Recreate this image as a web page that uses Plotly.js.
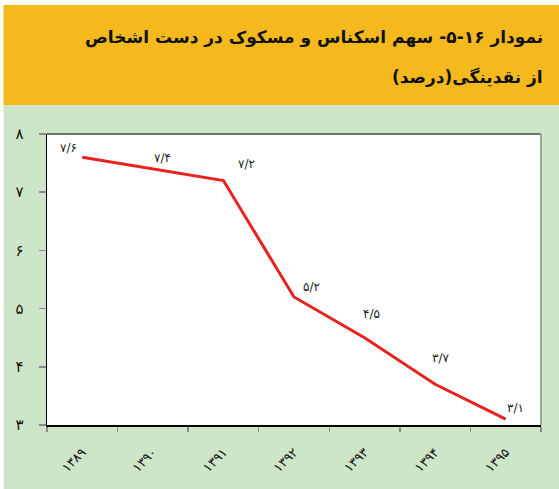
<!DOCTYPE html>
<html>
<head>
<meta charset="utf-8">
<script src="https://cdn.plot.ly/plotly-3.0.1.min.js"></script>
<style>
html,body{margin:0;padding:0;background:#fff;}
#chart{width:559px;height:489px;}
</style>
</head>
<body>
<div id="chart"></div>
<script>
// ---- data ----
const years = ["۱۳۸۹","۱۳۹۰","۱۳۹۱","۱۳۹۲","۱۳۹۳","۱۳۹۴","۱۳۹۵"];
const share = [7.6, 7.4, 7.2, 5.2, 4.5, 3.7, 3.1];
const shareLabels = ["۷/۶","۷/۴","۷/۲","۵/۲","۴/۵","۳/۷","۳/۱"];
const yTickVals = [3, 4, 5, 6, 7, 8];
const yTickText = ["۳","۴","۵","۶","۷","۸"];
const titleLine1 = "نمودار ۱۶-۵- سهم اسکناس و مسکوک در دست اشخاص";
const titleLine2 = "\u200Fاز نقدینگی(درصد)\u200F";

// label offsets (pixels) – styling only
const labelDx = [-14, 10, 23, 17, 7, 5, 10];
const labelDy = [9, 11, 17, 10, 24, 26, 11];

// ---- geometry helpers (pixel -> paper) ----
const W = 559, H = 489;
const L = 47.4, R = 540.8, T = 134, B = 425;
const pw = R - L, ph = B - T;
const px = x => (x - L) / pw;
const py = y => (B - y) / ph;

const font = "DejaVu Sans, Noto Sans, sans-serif";

const annotations = share.map((v, i) => ({
  x: years[i], y: v, xref: 'x', yref: 'y',
  text: shareLabels[i], showarrow: false,
  xshift: labelDx[i], yshift: labelDy[i],
  font: {family: font, size: 12, color: '#222'}
}));
annotations.push({
  xref: 'paper', yref: 'paper', x: px(545), y: py(37),
  xanchor: 'right', yanchor: 'middle', showarrow: false,
  text: '<b>' + titleLine1 + '</b>',
  font: {family: font, size: 17, color: '#111'}
});
annotations.push({
  xref: 'paper', yref: 'paper', x: px(545), y: py(77),
  xanchor: 'right', yanchor: 'middle', showarrow: false,
  text: '<b>' + titleLine2 + '</b>',
  font: {family: font, size: 17, color: '#111'}
});

const shapes = [
  {type:'rect', xref:'paper', yref:'paper', x0:px(0), x1:px(W), y0:py(0), y1:py(5),
   fillcolor:'#ffffff', line:{width:0}, layer:'below'},
  {type:'rect', xref:'paper', yref:'paper', x0:px(0), x1:px(4), y0:py(0), y1:py(H),
   fillcolor:'#ffffff', line:{width:0}, layer:'below'},
  {type:'rect', xref:'paper', yref:'paper', x0:px(4), x1:px(W), y0:py(5), y1:py(105),
   fillcolor:'#F5B91E', line:{width:0}, layer:'below'},
  {type:'line', xref:'paper', yref:'paper', x0:0, x1:1, y0:1, y1:1,
   line:{color:'#4a4a4a', width:1.5}},
  {type:'line', xref:'paper', yref:'paper', x0:1, x1:1, y0:0, y1:1,
   line:{color:'#a3a3a3', width:2}}
];

const trace = {
  x: years, y: share, type: 'scatter', mode: 'lines',
  line: {color: '#E8231E', width: 3},
  hoverinfo: 'skip'
};

const layout = {
  width: W, height: H,
  margin: {l: L, r: W - R, t: T, b: H - B, pad: 0},
  paper_bgcolor: '#CDE6C7',
  plot_bgcolor: '#ffffff',
  showlegend: false,
  xaxis: {
    type: 'category', categoryorder: 'array', categoryarray: years,
    range: [-0.5, 6.5],
    showgrid: false, zeroline: false,
    showline: true, linecolor: '#000', linewidth: 1.5,
    ticks: 'outside', ticklen: 5, tickcolor: '#888', tickwidth: 1.5,
    tickson: 'boundaries',
    tickangle: -45, ticklabelstandoff: 13,
    tickfont: {family: font, size: 13, color: '#111'}
  },
  yaxis: {
    range: [3, 8], tickvals: yTickVals, ticktext: yTickText,
    showgrid: false, zeroline: false,
    showline: true, linecolor: '#000', linewidth: 1.5,
    ticks: 'outside', ticklen: 7, tickcolor: '#888', tickwidth: 1.5,
    ticklabelstandoff: 12,
    tickfont: {family: font, size: 15, color: '#111'}
  },
  annotations: annotations,
  shapes: shapes
};

Plotly.newPlot('chart', [trace], layout, {displayModeBar: false, staticPlot: true});
</script>
</body>
</html>
